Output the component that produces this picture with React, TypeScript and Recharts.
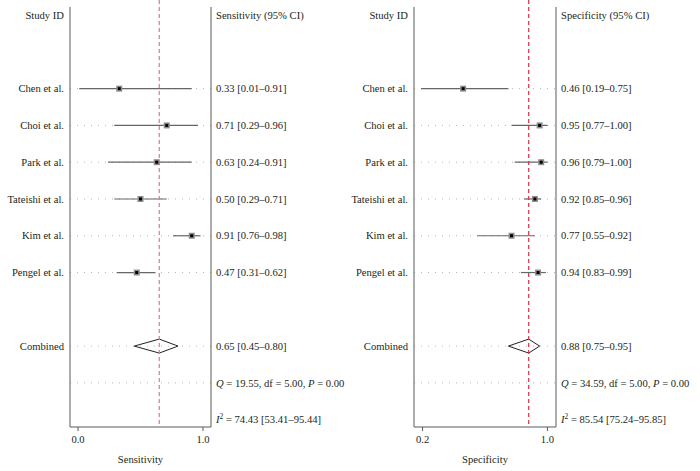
import React from "react"
import {
  ComposedChart,
  Scatter,
  XAxis,
  YAxis,
  ReferenceLine,
  ReferenceArea,
} from "recharts"

const studies = ["Chen et al.", "Choi et al.", "Park et al.", "Tateishi et al.", "Kim et al.", "Pengel et al."]

const sensEst = [0.33, 0.71, 0.63, 0.5, 0.91, 0.47]
const sensLo = [0.01, 0.29, 0.24, 0.29, 0.76, 0.31]
const sensHi = [0.91, 0.96, 0.91, 0.71, 0.98, 0.62]
const sensPooled = [0.65, 0.45, 0.8]
const sensQ = ["19.55", "5.00", "0.00"]
const sensI2 = ["74.43", "53.41", "95.44"]

const specEst = [0.46, 0.95, 0.96, 0.92, 0.77, 0.94]
const specLo = [0.19, 0.77, 0.79, 0.85, 0.55, 0.83]
const specHi = [0.75, 1.0, 1.0, 0.96, 0.92, 0.99]
const specPooled = [0.88, 0.75, 0.95]
const specQ = ["34.59", "5.00", "0.00"]
const specI2 = ["85.54", "75.24", "95.85"]

// row positions (top to bottom)
const HEADER_ROW = 0
const studyRows = [2, 3, 4, 5, 6, 7]
const COMBINED_ROW = 9
const Q_ROW = 10
const I2_ROW = 11

const FONT = "'Liberation Serif', 'DejaVu Serif', serif"
const FS = 10.6
const INK = "#231f20"
const AXIS = "#5a5a5a"

const f2 = (v: number) => v.toFixed(2)

interface PanelProps {
  name: string
  est: number[]
  lo: number[]
  hi: number[]
  pooled: number[]
  q: string[]
  i2: string[]
  domain: [number, number]
  ticks: number[]
  refColor: string
  leftW: number
  rightW: number
}

function Panel({ name, est, lo, hi, pooled, q, i2, domain, ticks, refColor, leftW, rightW }: PanelProps) {
  const points = est.map((v, i) => ({ x: v, y: studyRows[i] }))
  const [pEst, pLo, pHi] = pooled

  const leftTick = (props: any) => {
    const r = props.payload.value
    let label = ""
    if (r === HEADER_ROW) label = "Study ID"
    else if (r === COMBINED_ROW) label = "Combined"
    else {
      const i = studyRows.indexOf(r)
      if (i >= 0) label = studies[i]
    }
    return (
      <text x={props.x} y={props.y} dy="0.35em" textAnchor="end" fontFamily={FONT} fontSize={FS} fill={INK}>
        {label}
      </text>
    )
  }

  const rightTick = (props: any) => {
    const r = props.payload.value
    let content: React.ReactNode = null
    if (r === HEADER_ROW) content = `${name} (95% CI)`
    else if (r === COMBINED_ROW) content = `${f2(pEst)} [${f2(pLo)}–${f2(pHi)}]`
    else if (r === Q_ROW)
      content = (
        <>
          <tspan fontStyle="italic">Q</tspan>
          <tspan>{` = ${q[0]}, df = ${q[1]}, `}</tspan>
          <tspan fontStyle="italic">P</tspan>
          <tspan>{` = ${q[2]}`}</tspan>
        </>
      )
    else if (r === I2_ROW)
      content = (
        <>
          <tspan fontStyle="italic">I</tspan>
          <tspan dy={-4} fontSize={7.5}>2</tspan>
          <tspan dy={4}>{` = ${i2[0]} [${i2[1]}–${i2[2]}]`}</tspan>
        </>
      )
    else {
      const i = studyRows.indexOf(r)
      if (i >= 0) content = `${f2(est[i])} [${f2(lo[i])}–${f2(hi[i])}]`
    }
    return (
      <text x={props.x} y={props.y} dy="0.35em" textAnchor="start" fontFamily={FONT} fontSize={FS} fill={INK}>
        {content}
      </text>
    )
  }

  const marker = (props: any) => (
    <g>
      <rect x={props.cx - 3} y={props.cy - 3} width={6} height={6} fill="#8c8c8c" />
      <rect x={props.cx - 1.5} y={props.cy - 1.5} width={3} height={3} fill="#000" />
    </g>
  )

  const diamond = (props: any) => {
    const { x, y, width, height } = props
    const mx = x + (width * (pEst - pLo)) / (pHi - pLo)
    const my = y + height / 2
    return (
      <polygon
        points={`${x},${my} ${mx},${y} ${x + width},${my} ${mx},${y + height}`}
        fill="#fff"
        stroke="#222"
        strokeWidth={1}
      />
    )
  }

  const dottedRows = [...studyRows, COMBINED_ROW, Q_ROW]
  const yDomain: [number, number] = [-0.22, 11.2]

  return (
    <ComposedChart width={350} height={471} margin={{ top: 7, right: 0, bottom: 0, left: 0 }}>
      <XAxis
        type="number"
        dataKey="x"
        domain={domain}
        ticks={ticks}
        allowDataOverflow
        tickFormatter={(v: number) => v.toFixed(1)}
        tickSize={4}
        tickMargin={4}
        height={44}
        axisLine={{ stroke: AXIS }}
        tickLine={{ stroke: AXIS }}
        tick={{ fontFamily: FONT, fontSize: FS, fill: INK }}
        label={{ value: name, position: "insideBottom", offset: 8, fontFamily: FONT, fontSize: FS, fill: INK }}
      />
      <YAxis
        type="number"
        dataKey="y"
        domain={yDomain}
        reversed
        allowDataOverflow
        ticks={[HEADER_ROW, ...studyRows, COMBINED_ROW]}
        width={leftW}
        tickSize={4}
        tickMargin={2}
        tickLine={false}
        axisLine={{ stroke: AXIS }}
        tick={leftTick}
        interval={0}
      />
      <YAxis
        yAxisId="r"
        orientation="right"
        type="number"
        domain={yDomain}
        reversed
        allowDataOverflow
        ticks={[HEADER_ROW, ...studyRows, COMBINED_ROW, Q_ROW, I2_ROW]}
        width={rightW}
        tickSize={3}
        tickMargin={2}
        tickLine={false}
        axisLine={{ stroke: AXIS }}
        tick={rightTick}
        interval={0}
      />
      {dottedRows.map((r) => (
        <ReferenceLine key={`d${r}`} y={r} stroke="#b5b5b5" strokeDasharray="1 6" strokeWidth={1} />
      ))}
      {studyRows.map((r, i) => (
        <ReferenceLine
          key={`ci${r}`}
          segment={[
            { x: lo[i], y: r },
            { x: hi[i], y: r },
          ]}
          stroke="#666"
          strokeWidth={1.2}
        />
      ))}
      <ReferenceArea
        x1={pLo}
        x2={pHi}
        y1={COMBINED_ROW - 0.19}
        y2={COMBINED_ROW + 0.19}
        shape={diamond}
      />
      <ReferenceLine
        segment={[
          { x: pEst, y: -0.41 },
          { x: pEst, y: yDomain[1] },
        ]}
        ifOverflow="visible"
        stroke={refColor}
        strokeDasharray="4 3"
        strokeWidth={1.2}
      />
      <Scatter data={points} shape={marker} isAnimationActive={false} />
    </ComposedChart>
  )
}

export default function App() {
  return (
    <div
      style={{
        position: "absolute",
        left: 0,
        top: 0,
        width: 700,
        height: 471,
        background: "#fff",
        display: "flex",
        overflow: "hidden",
      }}
    >
      <Panel
        name="Sensitivity"
        est={sensEst}
        lo={sensLo}
        hi={sensHi}
        pooled={sensPooled}
        q={sensQ}
        i2={sensI2}
        domain={[-0.064, 1.064]}
        ticks={[0, 1]}
        refColor="#d9798a"
        leftW={70}
        rightW={139}
      />
      <Panel
        name="Specificity"
        est={specEst}
        lo={specLo}
        hi={specHi}
        pooled={specPooled}
        q={specQ}
        i2={specI2}
        domain={[0.145, 1.055]}
        ticks={[0.2, 1.0]}
        refColor="#d6334a"
        leftW={64}
        rightW={144}
      />
    </div>
  )
}
